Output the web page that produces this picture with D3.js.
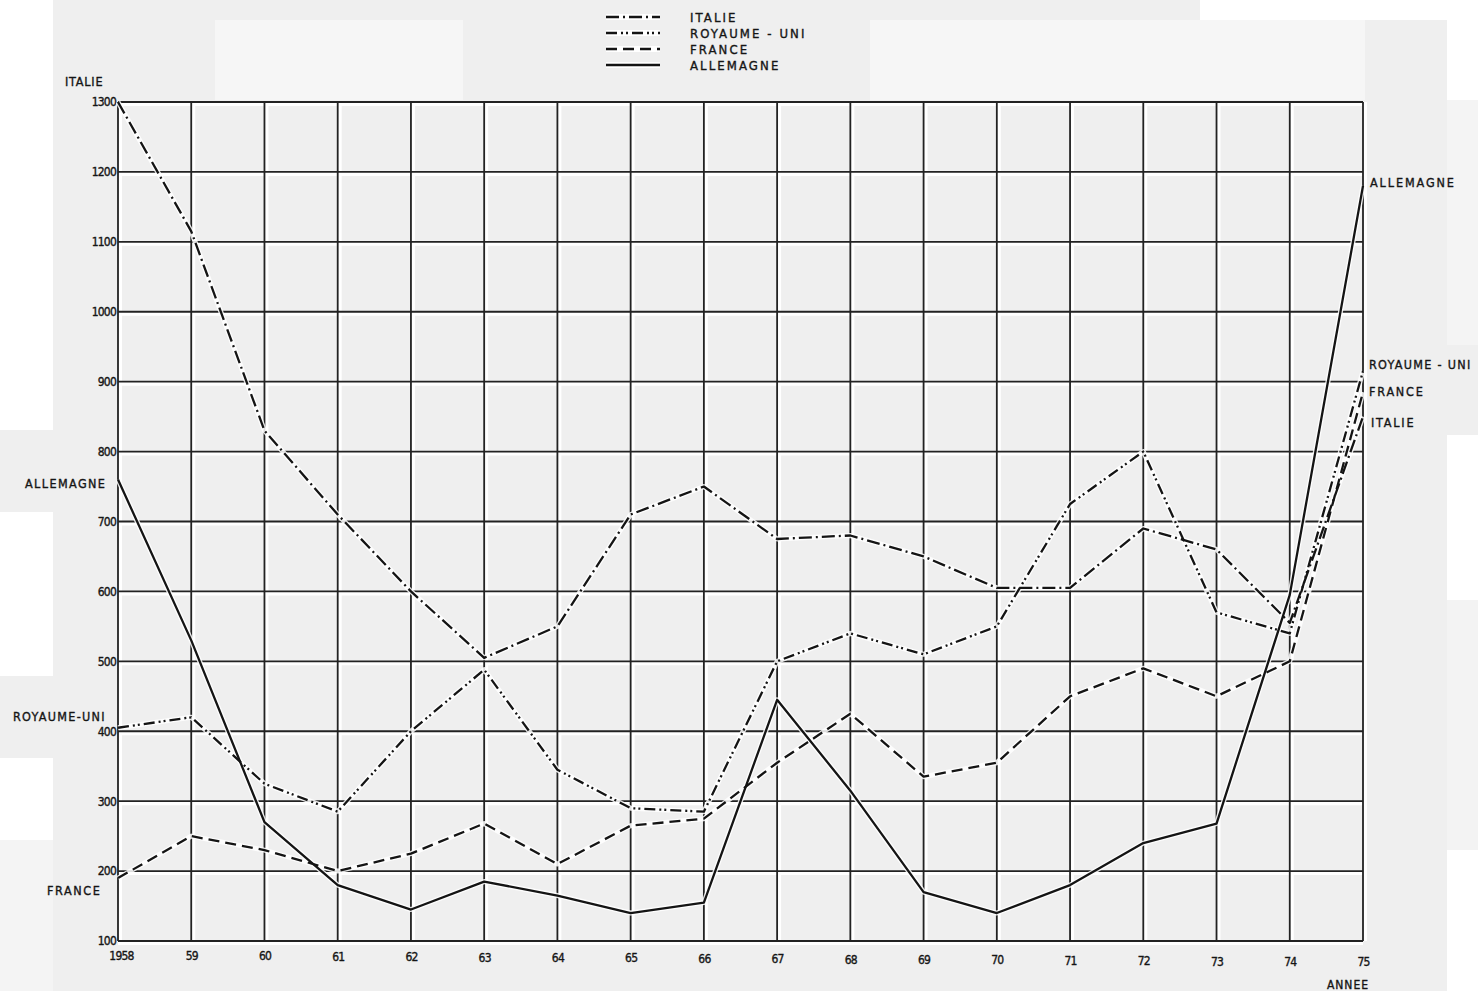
<!DOCTYPE html>
<html>
<head>
<meta charset="utf-8">
<script src="https://cdn.jsdelivr.net/npm/d3@7"></script>
<style>
  html, body { margin: 0; padding: 0; background: #ffffff; }
  svg { display: block; }
  text { font-family: "DejaVu Sans Condensed", "DejaVu Sans", sans-serif; fill: #151515; stroke: #151515; stroke-width: 0.35px; }
</style>
</head>
<body>
<svg id="chart" width="1478" height="991"></svg>
<script>
// ---------- data ----------
const years = [1958,1959,1960,1961,1962,1963,1964,1965,1966,1967,1968,1969,1970,1971,1972,1973,1974,1975];
const yearLabels = ["1958","59","60","61","62","63","64","65","66","67","68","69","70","71","72","73","74","75"];
const italie     = [1300,1115,830,710,600,505,550,710,750,675,680,650,605,605,690,660,555,850];
const royaumeUni = [405,420,325,285,400,488,345,290,285,500,540,510,550,725,800,570,540,915];
const france     = [190,250,230,200,225,268,210,265,275,355,425,335,355,450,490,450,500,885];
const allemagne  = [760,530,270,180,145,185,165,140,155,445,315,170,140,180,240,268,595,1180];
const yTicks = [100,200,300,400,500,600,700,800,900,1000,1100,1200,1300];
const seriesNames = ["ITALIE","ROYAUME - UNI","FRANCE","ALLEMAGNE"];

// ---------- setup ----------
const svg = d3.select("#chart");
const x = d3.scaleLinear().domain([1958, 1975]).range([118, 1363]);
const y = d3.scaleLinear().domain([100, 1300]).range([941, 102]);

const styles = {
  "ITALIE":        "13,4,2,4",
  "ROYAUME - UNI": "11,4,2,3,2,4",
  "FRANCE":        "11,6",
  "ALLEMAGNE":     null
};
const series = [
  {name: "ITALIE", values: italie},
  {name: "ROYAUME - UNI", values: royaumeUni},
  {name: "FRANCE", values: france},
  {name: "ALLEMAGNE", values: allemagne}
];

// ---------- background (scan patches) ----------
const bg = svg.append("g");
const patches = [
  [53, 0, 1394, 991, "#efefef"],
  [0, 430, 53, 82, "#efefef"],
  [0, 676, 53, 82, "#efefef"],
  [0, 840, 53, 151, "#f4f4f4"],
  [215, 20, 248, 80, "#f6f6f6"],
  [870, 20, 495, 80, "#f6f6f6"],
  [1200, 0, 278, 20, "#ffffff"],
  [1447, 100, 31, 250, "#f4f4f4"],
  [1447, 345, 31, 90, "#efefef"],
  [1447, 600, 31, 250, "#f3f3f3"]
];
bg.selectAll("rect").data(patches).join("rect")
  .attr("x", d => d[0]).attr("y", d => d[1])
  .attr("width", d => d[2]).attr("height", d => d[3])
  .attr("fill", d => d[4]);

// ---------- grid ----------
const grid = svg.append("g");
grid.selectAll("line.hh").data(yTicks).join("line").attr("class", "hh")
  .attr("x1", x(1958)).attr("x2", x(1975))
  .attr("y1", d => y(d) + 2).attr("y2", d => y(d) + 2)
  .attr("stroke", "#ffffff").attr("stroke-width", 4);
grid.selectAll("line.vh").data(years).join("line").attr("class", "vh")
  .attr("x1", d => x(d) + 2).attr("x2", d => x(d) + 2)
  .attr("y1", y(1300)).attr("y2", y(100))
  .attr("stroke", "#ffffff").attr("stroke-width", 4);
grid.selectAll("line.h").data(yTicks).join("line").attr("class", "h")
  .attr("x1", x(1958)).attr("x2", x(1975))
  .attr("y1", d => y(d)).attr("y2", d => y(d))
  .attr("stroke", "#222").attr("stroke-width", 1.8);
grid.selectAll("line.v").data(years).join("line").attr("class", "v")
  .attr("x1", d => x(d)).attr("x2", d => x(d))
  .attr("y1", y(1300)).attr("y2", y(100))
  .attr("stroke", "#222").attr("stroke-width", 1.8);

// ---------- axes labels ----------
const yAxis = d3.axisLeft(y).tickValues(yTicks).tickSize(0).tickPadding(2).tickFormat(d3.format("d"));
const gy = svg.append("g").attr("transform", `translate(${x(1958)},0)`).call(yAxis);
gy.select(".domain").remove();
gy.selectAll("text").attr("font-size", 12).style("letter-spacing", "-0.8px")
  .style("font-family", "'DejaVu Sans Condensed', sans-serif").attr("fill", "#151515");

const xAxis = d3.axisBottom(x).tickValues(years).tickSize(0).tickPadding(10)
  .tickFormat((d, i) => yearLabels[i]);
const gx = svg.append("g").attr("transform", `translate(0,${y(100)})`).call(xAxis);
gx.select(".domain").remove();
gx.selectAll("text").attr("font-size", 12).style("letter-spacing", "-0.8px")
  .style("font-family", "'DejaVu Sans Condensed', sans-serif").attr("fill", "#151515")
  .attr("dx", (d, i) => i === 0 ? 3 : 0)
  .attr("dy", (d, i) => (0.71 * 12 + i * 0.4) + "px");

svg.append("text").attr("x", 1348).attr("y", 989).attr("text-anchor", "middle")
  .attr("font-size", 12).style("letter-spacing", "1px").text("ANNEE");

// ---------- lines ----------
const line = d3.line().x((d, i) => x(years[i])).y(d => y(d));
const lg = svg.append("g");
series.forEach(s => {
  lg.append("path").attr("d", line(s.values)).attr("fill", "none")
    .attr("stroke", "#ffffff").attr("stroke-width", 5).attr("stroke-opacity", 0.85)
    .attr("stroke-linejoin", "round");
});
series.forEach(s => {
  const p = lg.append("path").attr("d", line(s.values)).attr("fill", "none")
    .attr("stroke", "#141414").attr("stroke-width", 2.3).attr("stroke-linejoin", "round");
  if (styles[s.name]) p.attr("stroke-dasharray", styles[s.name]);
});

// ---------- end labels ----------
const leftLabels = [
  {t: "ITALIE", x: 65, y: 86, ls: 0.8},
  {t: "ALLEMAGNE", x: 25, y: 488, ls: 1.4},
  {t: "ROYAUME-UNI", x: 13, y: 721, ls: 1.3},
  {t: "FRANCE", x: 47, y: 895, ls: 1.6}
];
const rightLabels = [
  {t: "ALLEMAGNE", x: 1370, y: 187, ls: 1.9},
  {t: "ROYAUME - UNI", x: 1369, y: 369, ls: 1.3},
  {t: "FRANCE", x: 1369, y: 396, ls: 1.8},
  {t: "ITALIE", x: 1371, y: 427, ls: 1.8}
];
svg.append("g").selectAll("text").data(leftLabels.concat(rightLabels)).join("text")
  .attr("x", d => d.x).attr("y", d => d.y)
  .attr("font-size", 12.5).style("letter-spacing", d => d.ls + "px")
  .text(d => d.t);

// ---------- legend ----------
const leg = svg.append("g");
seriesNames.forEach((n, i) => {
  const yy = 17 + i * 16;
  leg.append("line").attr("x1", 606).attr("x2", 660).attr("y1", yy).attr("y2", yy)
    .attr("stroke", "#ffffff").attr("stroke-width", 6);
  const l = leg.append("line").attr("x1", 606).attr("x2", 660).attr("y1", yy).attr("y2", yy)
    .attr("stroke", "#141414").attr("stroke-width", 2.3);
  if (styles[n]) l.attr("stroke-dasharray", styles[n]);
  leg.append("text").attr("x", 690).attr("y", yy + 5).attr("font-size", 13)
    .style("letter-spacing", "2.1px").text(n);
});
</script>
</body>
</html>
